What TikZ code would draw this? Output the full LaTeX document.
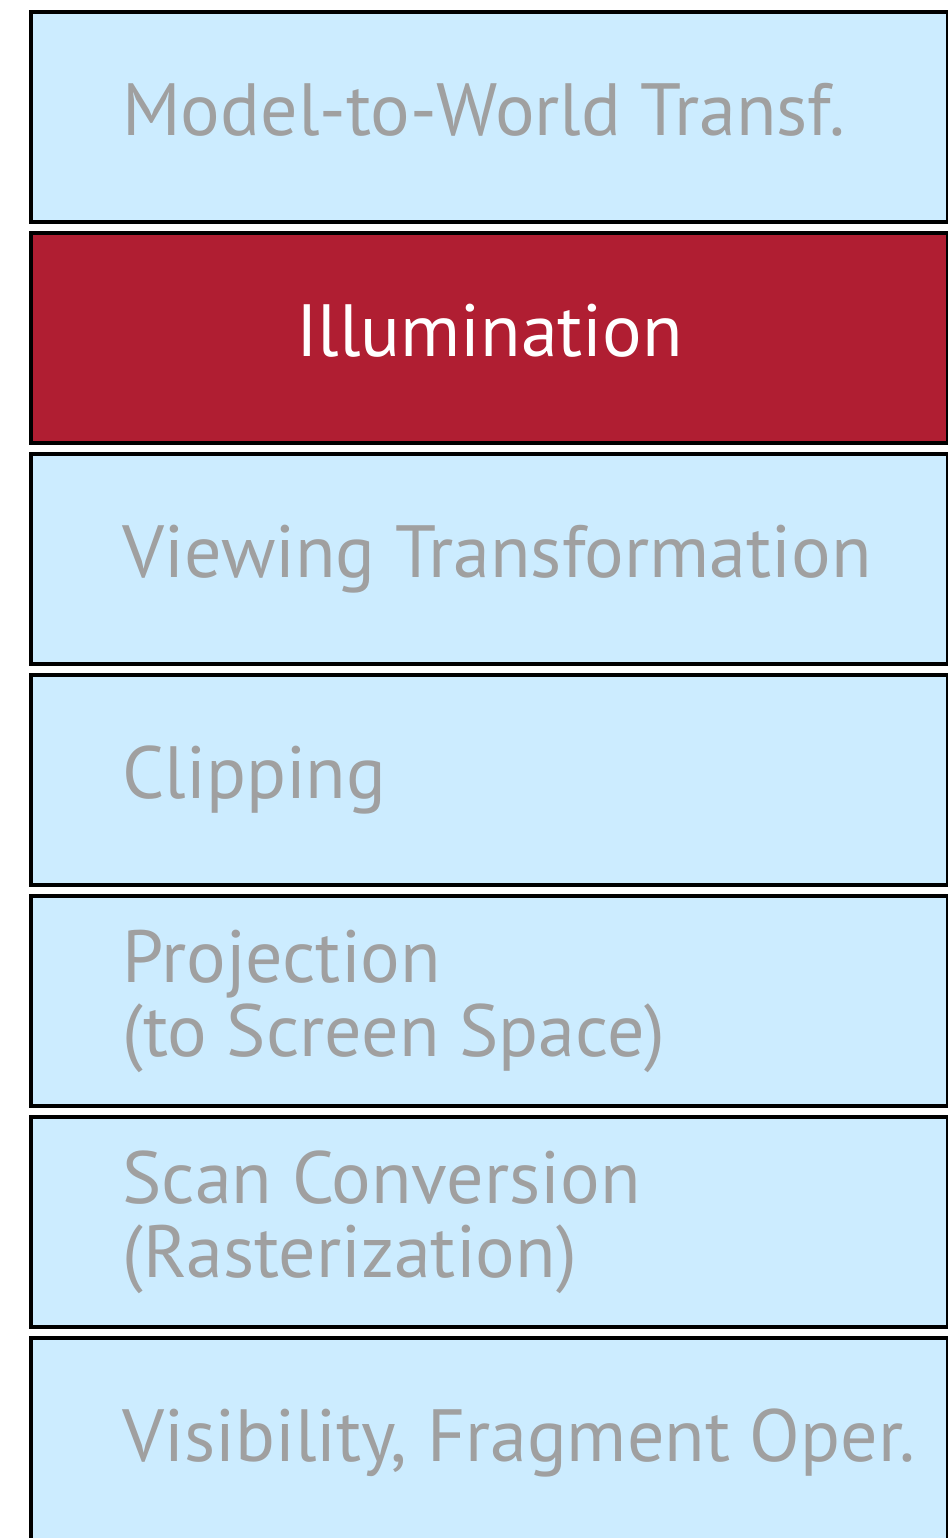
\documentclass[tikz,border=0pt]{standalone}
\usepackage{fontspec}
\setmainfont{PT Sans}
\definecolor{stageblue}{RGB}{204,236,255}
\definecolor{stagered}{RGB}{176,30,50}
\definecolor{stagegray}{RGB}{160,160,160}
\tikzset{
  stage/.style={draw=black, line width=2pt, fill=stageblue, minimum width=458.5pt,
    minimum height=105pt, inner sep=0pt, anchor=north west},
  stagetext/.style={text=stagegray, font=\fontsize{37}{37}\selectfont, align=left,
    anchor=base west, inner sep=0pt}
}
\begin{document}
\begin{tikzpicture}[x=0.5pt,y=-0.5pt]
    \useasboundingbox (0,0) rectangle (948,1538);

    % Pipeline stages
    \node[stage] (model) at (29,10) {};
    \node[stage, fill=stagered] (illum) at (29,231) {};
    \node[stage] (viewing) at (29,452) {};
    \node[stage] (clipping) at (29,673) {};
    \node[stage] (projection) at (29,894) {};
    \node[stage] (scan) at (29,1115) {};
    \node[stage] (visibility) at (29,1336) {};

    % Labels
    \node[stagetext] (model-text) at ([xshift=46.5pt,yshift=-9pt]model.west) {Model-to-World Transf.};
    \node[stagetext, text=white, anchor=base] (illum-text) at ([yshift=-9pt]illum.center) {Illumination};
    \node[stagetext] (viewing-text) at ([xshift=46.5pt,yshift=-9pt]viewing.west) {Viewing Transformation};
    \node[stagetext] (clipping-text) at ([xshift=46.5pt,yshift=-9pt]clipping.west) {Clipping};
    \node[stagetext, anchor=west] (projection-text) at ([xshift=46.5pt]projection.west) {Projection\\(to Screen Space)};
    \node[stagetext, anchor=west] (scan-text) at ([xshift=46.5pt]scan.west) {Scan Conversion\\(Rasterization)};
    \node[stagetext] (visibility-text) at ([xshift=46.5pt,yshift=-9pt]visibility.west) {Visibility, Fragment Oper.};
\end{tikzpicture}
\end{document}
